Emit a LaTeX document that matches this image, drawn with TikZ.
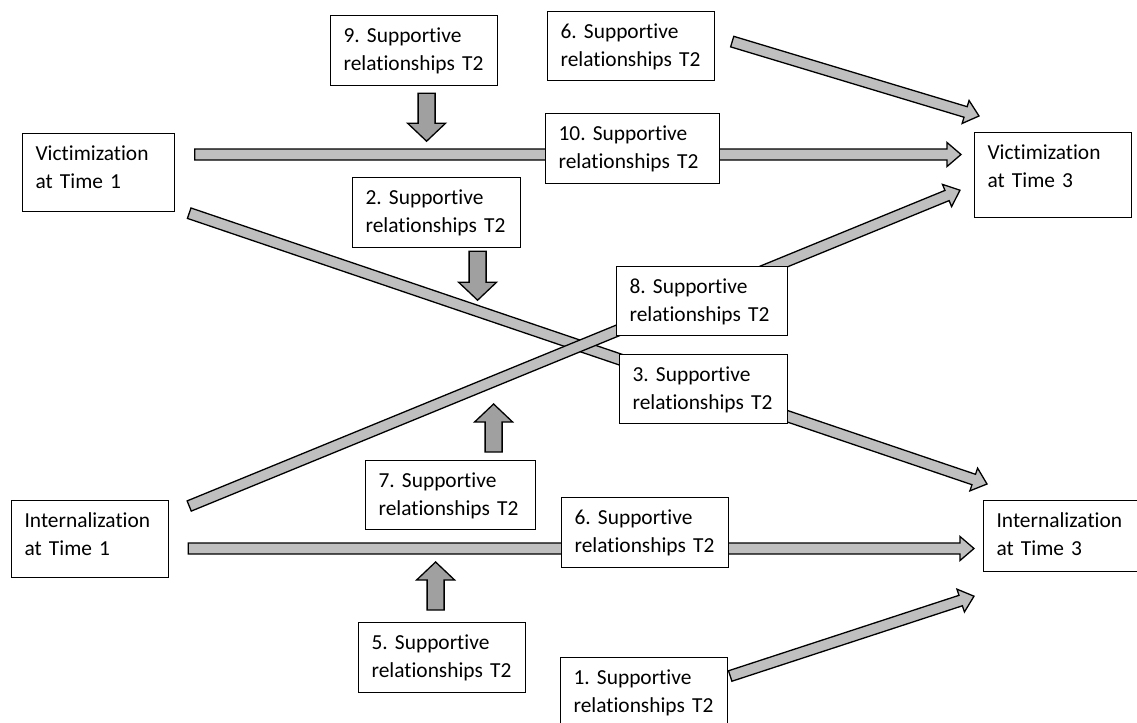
\documentclass[tikz,border=0pt]{standalone}
\usepackage{fontspec}
\setmainfont{Carlito}[Ligatures=NoCommon]
\frenchspacing
\usetikzlibrary{calc,backgrounds}
\definecolor{longgrey}{HTML}{BFBFBF}
\definecolor{shortgrey}{HTML}{A0A0A0}
\tikzset{
  relbox/.style={draw, fill=white, line width=0.6pt, anchor=north west, align=left,
    inner xsep=6.5pt, inner ysep=5.5pt, text height=8pt, text depth=16pt,
    font=\fontsize{10.7}{14}\selectfont},
  blockarrow/.style n args={3}{draw=black, line width=0.65pt, line join=miter,
    to path={($(\tikztostart)!#1!90:(\tikztotarget)$)
      -- ($($(\tikztotarget)!#3!(\tikztostart)$)!#1!90:(\tikztotarget)$)
      -- ($($(\tikztotarget)!#3!(\tikztostart)$)!#2!90:(\tikztotarget)$)
      -- (\tikztotarget)
      -- ($($(\tikztotarget)!#3!(\tikztostart)$)!#2!-90:(\tikztotarget)$)
      -- ($($(\tikztotarget)!#3!(\tikztostart)$)!#1!-90:(\tikztotarget)$)
      -- ($(\tikztostart)!#1!-90:(\tikztotarget)$) -- cycle}},
  longarrow/.style={blockarrow={2.75pt}{6pt}{7pt}, fill=longgrey},
  shortarrow/.style={blockarrow={4.25pt}{9.5pt}{9pt}, fill=shortgrey}
}
\begin{document}
\begin{tikzpicture}[x=0.5pt, y=-0.5pt]
\useasboundingbox (0,0) rectangle (1137,723);
\clip (0,0) rectangle (1137,723);
\node[relbox, text width=63pt, text depth=20pt] (vic1) at (22,133) {Victimization\\at Time 1};
\node[relbox, text width=65.5pt, text depth=23.5pt] (vic3) at (974,132) {Victimization\\at Time 3};
\node[relbox, text width=65.5pt, text depth=19.5pt] (int1) at (11,500) {Internalization\\at Time 1};
\node[relbox, text width=64pt, text depth=16.5pt] (int3) at (983,500) {Internalization\\at Time 3};
\node[relbox, text width=70.5pt] (b9) at (330,15) {9. Supportive\\relationships T2};
\node[relbox, text width=70.5pt, text depth=15.5pt] (b6a) at (547,11) {6. Supportive\\relationships T2};
\node[relbox, text width=74pt] (b10) at (545,113) {10. Supportive\\relationships T2};
\node[relbox, text width=71pt] (b2) at (352,177) {2. Supportive\\relationships T2};
\node[relbox, text width=72.5pt, text depth=15.5pt] (b8) at (616,266) {8. Supportive\\relationships T2};
\node[relbox, text width=71pt, text depth=15.5pt] (b3) at (619,354) {3. Supportive\\relationships T2};
\node[relbox, text width=72pt, text depth=15.5pt] (b7) at (365,460) {7. Supportive\\relationships T2};
\node[relbox, text width=70.5pt] (b6b) at (561,497) {6. Supportive\\relationships T2};
\node[relbox, text width=70.5pt] (b5) at (358,622) {5. Supportive\\relationships T2};
\node[relbox, text width=70.5pt] (b1) at (560,657) {1. Supportive\\relationships T2};
\begin{scope}[on background layer]
\draw[longarrow] ($(vic1.north east)+(19.5,21.5)$) to ($(vic3.north west)+(-13,22.5)$);
\draw[longarrow] ($(int1.north east)+(19,48.5)$) to ($(int3.north west)+(-9,48.5)$);
\draw[longarrow] ($(vic1.south east)+(14,1)$) to ($(int3.north west)+(4,-16)$);
\draw[longarrow] ($(int1.north east)+(20,6)$) to ($(vic3.south west)+(-14,-28)$);
\draw[longarrow] ($(b6a.east)+(17,-4.5)$) to ($(vic3.north west)+(5,-16)$);
\draw[longarrow] ($(b1.north east)+(2,19)$) to ($(int3.south west)+(-9,24)$);
\end{scope}
\draw[shortarrow] ($(b9.south)+(12.5,7)$) to ($(b9.south)+(12.5,55)$);
\draw[shortarrow] ($(b2.south)+(41,3)$) to ($(b2.south)+(41,52)$);
\draw[shortarrow] ($(b7.north)+(43,-8)$) to ($(b7.north)+(43,-56)$);
\draw[shortarrow] ($(b5.north)+(-6.5,-12)$) to ($(b5.north)+(-6.5,-60)$);
\end{tikzpicture}
\end{document}
